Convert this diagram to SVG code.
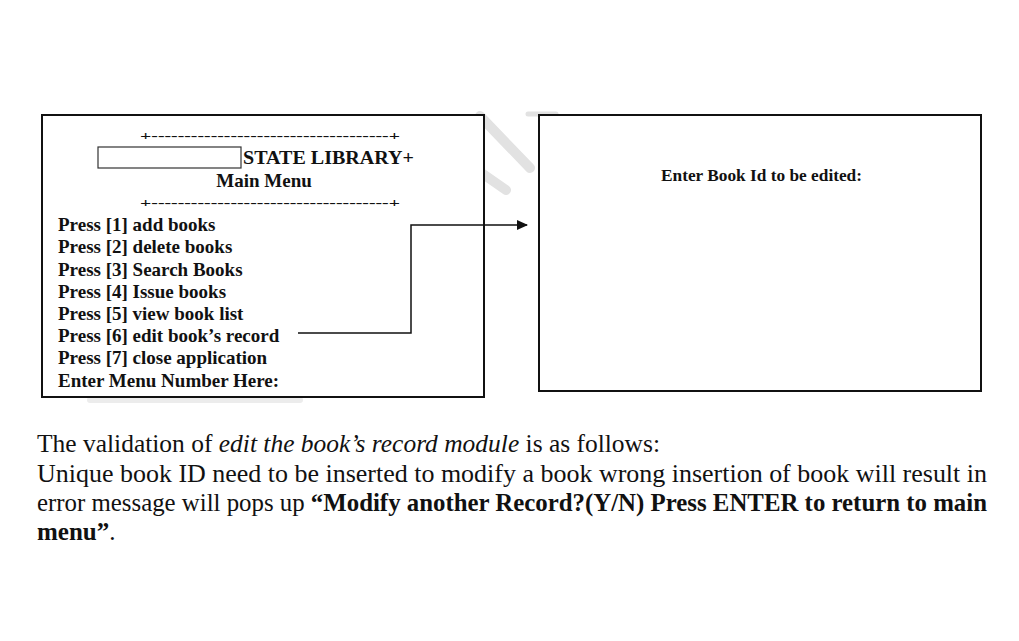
<svg xmlns="http://www.w3.org/2000/svg" width="1019" height="641" viewBox="0 0 1019 641">
<style>
.box{fill:#fff;stroke:#111;stroke-width:2}
.t{font-family:"Liberation Serif",serif;font-weight:bold;fill:#111}
.m{font-size:19px}
.b{font-family:"Liberation Serif",serif;font-size:25px;fill:#111}
.conn{fill:none;stroke:#111;stroke-width:1.5}
</style>
<defs>
<marker id="arr" markerWidth="11" markerHeight="10" refX="10" refY="5" orient="auto" markerUnits="userSpaceOnUse">
<path d="M0,0 L11,5 L0,10 Z" fill="#111"/>
</marker>
</defs>
<rect width="1019" height="641" fill="#fff"/>
<g id="watermark" stroke="#e2e2e2" stroke-linecap="round" fill="none" stroke-width="10">
<path d="M480,116 L530,168"/>
<path d="M470,165 L506,190"/>
<path d="M528,114 L556,114" stroke-width="5"/>
<path d="M90,400 L300,400" stroke="#ececec" stroke-width="6"/>
</g>
<g id="main-menu">
<rect class="box" x="42" y="115" width="442" height="282"/>
<text class="t" x="140" y="140" font-size="13" textLength="260" lengthAdjust="spacingAndGlyphs">+------------------------------------+</text>
<rect x="98" y="147" width="143" height="21" fill="#fff" stroke="#333" stroke-width="1.2"/>
<text class="t m" x="243" y="164" textLength="171" lengthAdjust="spacingAndGlyphs">STATE LIBRARY+</text>
<text class="t m" x="264" y="187" text-anchor="middle">Main Menu</text>
<text class="t" x="140" y="207" font-size="13" textLength="260" lengthAdjust="spacingAndGlyphs">+------------------------------------+</text>
<text class="t m" x="58" y="231">Press [1] add books</text>
<text class="t m" x="58" y="253">Press [2] delete books</text>
<text class="t m" x="58" y="276">Press [3] Search Books</text>
<text class="t m" x="58" y="298">Press [4] Issue books</text>
<text class="t m" x="58" y="320">Press [5] view book list</text>
<text class="t m" x="58" y="342">Press [6] edit book’s record</text>
<text class="t m" x="58" y="364">Press [7] close application</text>
<text class="t m" x="58" y="387">Enter Menu Number Here:</text>
</g>
<g id="edit-screen">
<rect class="box" x="539" y="115" width="442" height="276"/>
<text class="t" x="661" y="181" font-size="17" textLength="201" lengthAdjust="spacingAndGlyphs">Enter Book Id to be edited:</text>
</g>
<g id="connectors">
<path class="conn" d="M298,333 H411 V225 H527" marker-end="url(#arr)"/>
</g>
<g id="description">
<text class="b" x="37" y="452" textLength="623" lengthAdjust="spacingAndGlyphs">The validation of <tspan font-style="italic">edit the book’s record module</tspan> is as follows:</text>
<text class="b" x="37" y="482" textLength="950" lengthAdjust="spacingAndGlyphs">Unique book ID need to be inserted to modify a book wrong insertion of book will result in</text>
<text class="b" x="37" y="511" textLength="950" lengthAdjust="spacingAndGlyphs">error message will pops up <tspan font-weight="bold">“Modify another Record?(Y/N) Press ENTER to return to main</tspan></text>
<text class="b" x="37" y="540"><tspan font-weight="bold">menu”</tspan>.</text>
</g>
</svg>
